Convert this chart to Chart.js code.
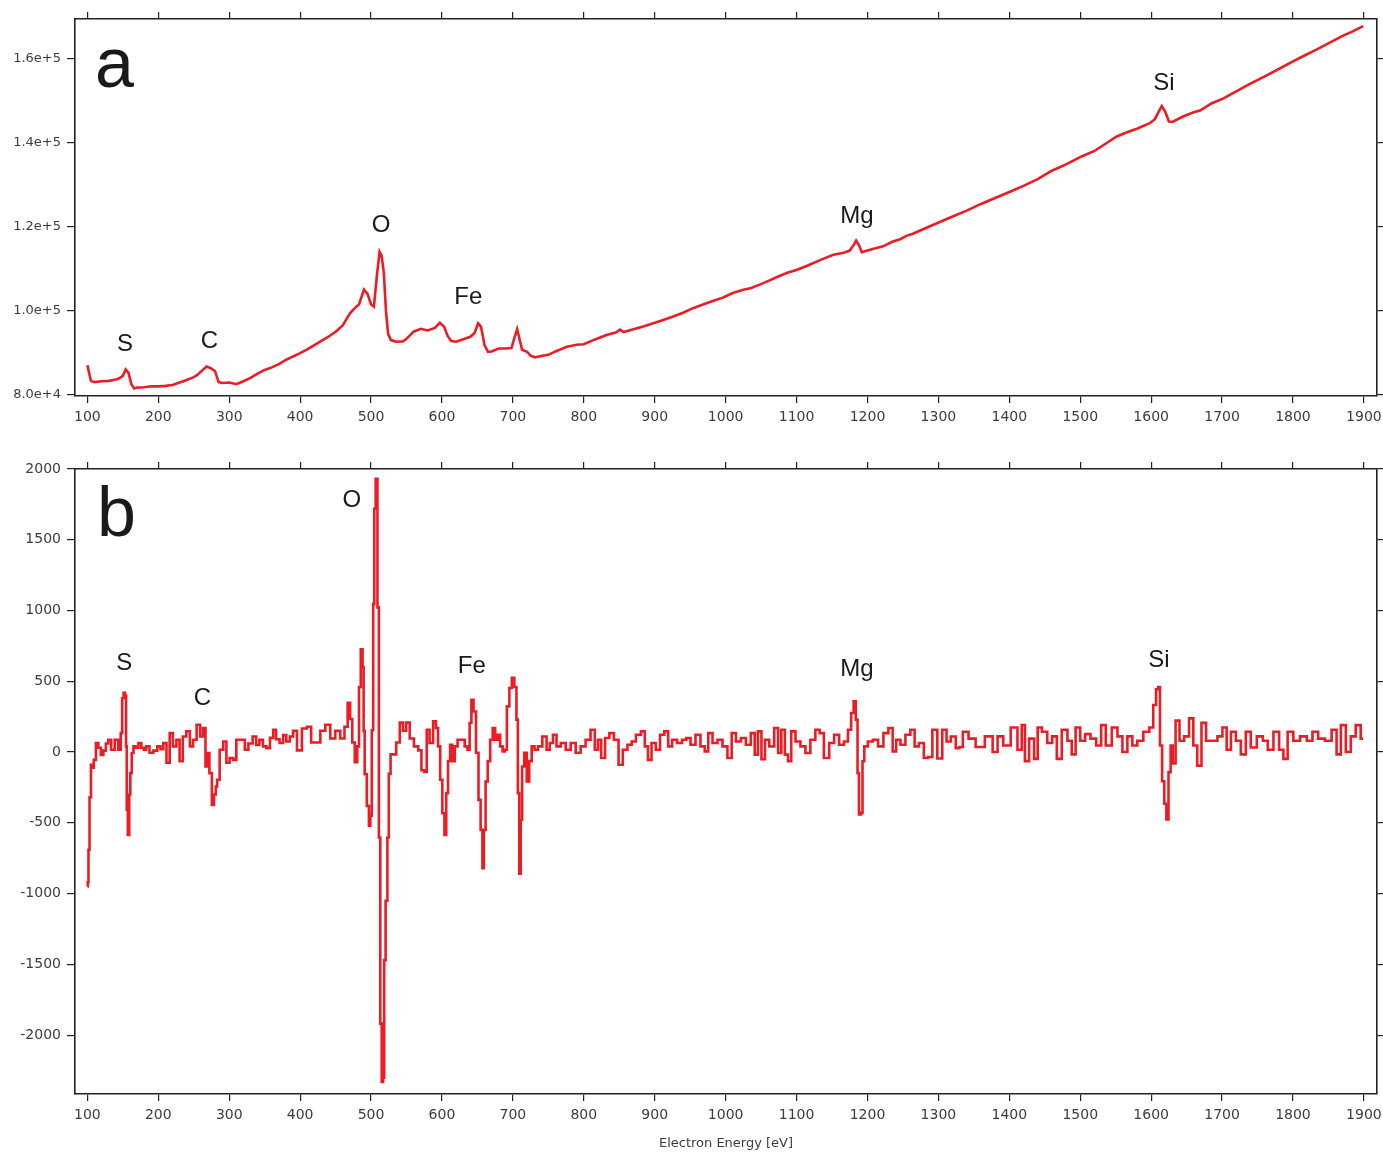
<!DOCTYPE html>
<html>
<head>
<meta charset="utf-8">
<script src="https://cdn.jsdelivr.net/npm/chart.js@4/dist/chart.umd.min.js"></script>
<style>
  html, body { margin: 0; padding: 0; background: #fff; }
  #wrap { position: relative; width: 1383px; height: 1152px; }
  canvas { position: absolute; left: 0; }
  #cA { top: 0; }
  #cB { top: 450px; }
</style>
</head>
<body>
<div id="wrap">
  <canvas id="cA" width="1383" height="440"></canvas>
  <canvas id="cB" width="1383" height="702"></canvas>
</div>
<script>
// ---------------- data ----------------
const xTickValues = [100,200,300,400,500,600,700,800,900,1000,1100,1200,1300,1400,1500,1600,1700,1800,1900];

const topYTicks = [80000,100000,120000,140000,160000];
const topYTickLabels = ['8.0e+4','1.0e+5','1.2e+5','1.4e+5','1.6e+5'];
const botYTicks = [-2000,-1500,-1000,-500,0,500,1000,1500,2000];

// panel a: spectrum (energy in eV, counts)
const specE = [100,102,105,110,120,130,140,145,150,154,158,162,166,170,180,190,200,210,220,230,240,250,255,262,268,274,280,285,290,300,310,320,330,340,350,360,370,380,390,400,410,420,430,440,450,460,470,478,483,490,495,500,504,508,512,515,518,521,524,528,535,545,550,560,570,580,590,597,603,608,613,620,630,640,646,651,655,660,665,670,680,690,698,702,706,710,713,720,725,731,740,750,760,776,790,800,815,832,845,851,856,870,885,898,912,926,940,954,970,985,996,1010,1025,1036,1048,1062,1075,1088,1100,1115,1130,1140,1152,1165,1175,1180,1184,1188,1192,1200,1210,1222,1235,1246,1255,1264,1280,1302,1320,1340,1360,1380,1401,1420,1440,1460,1480,1502,1520,1540,1551,1565,1580,1598,1605,1612,1615,1620,1625,1630,1645,1660,1669,1685,1702,1720,1740,1763,1780,1800,1815,1833,1850,1870,1885,1899];
const specV = [87000,85500,83300,83000,83200,83300,83600,83900,84500,86000,85200,82500,81500,81700,81800,82000,82000,82100,82300,82900,83500,84200,84700,85800,86700,86300,85600,83000,82800,82900,82500,83200,84000,85000,85900,86500,87300,88300,89100,89900,90800,91800,92800,93800,95000,96500,99300,100800,101500,105000,104000,101500,101000,108000,114000,113000,109000,100000,94500,93000,92600,92700,93300,95000,95700,95300,95900,97100,96200,94000,92800,92600,93200,93800,94700,97000,96200,91800,90200,90300,91000,91000,91100,93500,95600,92800,90700,90200,89300,88900,89200,89500,90300,91400,91900,92000,93100,94200,94800,95500,94900,95600,96300,97000,97800,98600,99500,100600,101600,102500,103100,104200,105000,105400,106200,107200,108200,109100,109700,110700,111800,112500,113300,113700,114300,115500,116700,115600,113900,114300,114800,115300,116400,117000,117800,118300,119500,121100,122400,123800,125400,126800,128300,129700,131300,133300,134800,136700,138000,140200,141400,142400,143300,144600,145500,147800,148700,147300,145000,144900,146200,147200,147600,149300,150500,152200,154000,156000,157500,159300,160600,162100,163600,165400,166500,167700];

// panel b: derivative spectrum
const derivE = [100,101,102,104,106,108,110,114,117,121,124,128,131,136,141,146,148,150,152,154,155,156,158,160,161,164,166,170,174,178,181,185,190,196,201,205,209,214,218,223,228,232,237,242,247,251,257,261,265,268,270,274,277,280,282,284,289,294,298,303,308,312,320,324,330,336,340,345,350,355,360,364,368,374,378,383,388,392,399,406,413,418,425,432,439,446,453,460,465,469,472,475,479,482,484,487,489,490,492,496,498,500,502,504,505,508,510,512,514,516,518,519,522,524,526,529,533,538,543,547,552,557,564,569,573,577,580,585,590,593,596,599,602,605,607,610,613,616,620,624,630,634,638,640,643,646,650,653,656,658,660,663,666,670,673,677,680,684,687,690,693,697,700,704,706,708,710,712,714,718,721,725,728,733,738,745,750,754,759,764,771,778,785,792,799,806,813,818,822,827,833,839,846,852,858,865,870,877,884,888,893,898,905,910,917,921,928,935,942,947,954,961,968,973,978,985,992,999,1006,1011,1018,1025,1032,1039,1043,1048,1053,1058,1065,1072,1076,1081,1086,1090,1095,1102,1109,1116,1123,1130,1135,1142,1150,1156,1164,1170,1175,1179,1182,1185,1187,1189,1192,1194,1197,1204,1211,1219,1226,1233,1238,1243,1250,1257,1264,1269,1276,1283,1288,1295,1302,1309,1314,1321,1328,1331,1338,1347,1358,1373,1380,1387,1396,1408,1415,1420,1424,1432,1438,1442,1450,1457,1464,1470,1478,1486,1490,1497,1503,1511,1518,1527,1532,1540,1549,1556,1563,1570,1577,1584,1594,1601,1605,1609,1611,1614,1617,1620,1623,1626,1629,1632,1637,1643,1650,1657,1662,1668,1674,1681,1690,1697,1704,1709,1716,1723,1730,1737,1744,1754,1761,1768,1777,1784,1789,1796,1805,1815,1824,1831,1840,1850,1859,1864,1871,1878,1885,1892,1899];
const derivV = [-950,-920,-690,-320,-90,-110,-55,64,30,-20,10,60,87,16,87,16,134,380,418,400,40,-408,-585,-300,-149,-7,40,30,64,30,16,40,-5,10,40,20,64,-76,134,40,87,-64,110,146,40,87,193,110,170,-102,-7,-149,-373,-300,-243,-196,16,75,-76,-42,-55,87,87,16,60,110,50,87,40,28,100,158,90,64,120,75,110,151,12,166,179,68,68,151,193,96,151,96,179,348,234,68,-72,40,460,726,600,150,-156,-380,-520,-450,154,1047,1719,1930,1022,-604,-1919,-2330,-2300,-1470,-1051,-604,-154,-16,-16,68,208,151,208,96,40,12,-128,-140,158,64,217,170,40,-196,-432,-585,-290,-64,52,-64,40,87,87,40,16,205,370,287,-5,-338,-550,-820,-550,-208,-64,87,170,87,122,40,5,16,323,453,524,460,229,-290,-860,-480,-102,-5,-208,-64,40,16,40,110,16,64,122,40,64,16,64,-5,40,87,158,16,87,-42,99,134,87,-90,16,52,75,122,146,40,-55,64,16,122,146,40,87,64,87,99,52,122,40,5,134,64,87,40,-42,134,75,99,52,134,-18,146,-50,87,40,170,-7,158,-18,-65,146,75,40,-7,87,158,134,-42,64,122,52,75,158,276,358,229,-149,-440,-430,-65,40,75,87,40,134,170,5,87,52,122,158,40,64,-42,-35,158,-45,158,75,110,28,36,143,95,36,111,0,111,46,174,16,190,-64,95,-48,174,143,64,111,-48,158,80,-16,174,80,127,95,46,190,46,174,111,0,111,46,80,143,174,333,444,460,46,-206,-365,-476,-142,46,-80,222,80,111,238,46,-96,206,80,80,111,174,16,143,80,-16,143,32,111,80,16,143,16,-48,143,80,111,80,143,95,80,158,-16,190,0,111,190,95];

// peak labels (text, energy, value)
const peakNamesA = ['S','C','O','Fe','Mg','Si'];
const peakEA = [153,272,514,637,1185,1618];
const peakVA = [92100,92600,120200,103100,122500,154000];
const peakNamesB = ['S','C','O','Fe','Mg','Si'];
const peakEB = [152,262,473,642,1185,1611];
const peakVB = [630,380,1775,605,583,646];

const panelLetterA = {text:'a', x:138, y:157700};
const panelLetterB = {text:'b', x:141, y:1660};

// ---------------- styling ----------------
const RED = '#ec1c24';
const AXIS = '#222';
const TICKTXT = '#3c3c3c';

function fixSize(size) {
  return function(s) {
    if (s.isHorizontal()) s.height = size; else s.width = size;
    s.paddingLeft = 0; s.paddingRight = 0; s.paddingTop = 0; s.paddingBottom = 0;
  };
}
function setTicks(values) {
  return function(s) { s.ticks = values.map(v => ({value: v})); };
}

const labelPlugin = {
  id: 'peakLabels',
  afterDatasetsDraw(chart, args, opts) {
    const ctx = chart.ctx, xs = chart.scales.x, ys = chart.scales.y;
    ctx.save();
    ctx.fillStyle = '#1a1a1a';
    ctx.textAlign = 'center';
    ctx.textBaseline = 'middle';
    ctx.font = '24px "Liberation Sans", Arial, sans-serif';
    opts.names.forEach((n, i) => {
      ctx.fillText(n, xs.getPixelForValue(opts.es[i]), ys.getPixelForValue(opts.vs[i]));
    });
    ctx.font = '70px "Liberation Sans", Arial, sans-serif';
    ctx.fillText(opts.letter.text, xs.getPixelForValue(opts.letter.x), ys.getPixelForValue(opts.letter.y));
    ctx.restore();
  }
};

function makeChart(id, E, V, yMin, yMax, yTicks, yLabelFn, yFont, bottomH, withTitle, stepped, labelOpts) {
  const common = {
    type: 'linear', min: 82.5, max: 1918.5,
    afterBuildTicks: setTicks(xTickValues),
    grid: { drawOnChartArea: false, drawTicks: true, tickLength: 7, color: AXIS, lineWidth: 1.2 },
    border: { display: true, color: AXIS, width: 1.6 }
  };
  const ycommon = {
    type: 'linear', min: yMin, max: yMax,
    afterBuildTicks: setTicks(yTicks),
    grid: { drawOnChartArea: false, drawTicks: true, tickLength: 8, color: AXIS, lineWidth: 1.2 },
    border: { display: true, color: AXIS, width: 1.6 }
  };
  return new Chart(document.getElementById(id), {
    type: 'line',
    data: {
      datasets: [{
        data: E.map((e, i) => ({x: e, y: V[i]})),
        borderColor: RED,
        borderWidth: 2.6,
        pointRadius: 0,
        fill: false,
        tension: 0,
        stepped: stepped
      }]
    },
    options: {
      responsive: false,
      animation: false,
      events: [],
      layout: { padding: 0, autoPadding: false },
      plugins: { legend: { display: false }, tooltip: { enabled: false }, peakLabels: labelOpts },
      scales: {
        x: Object.assign({}, common, {
          position: 'bottom',
          afterFit: fixSize(bottomH),
          ticks: { color: TICKTXT, font: { family: 'DejaVu Sans', size: 14 }, padding: 6, maxRotation: 0, autoSkip: false,
                   callback: v => String(v) },
          title: withTitle ? { display: true, text: 'Electron Energy [eV]', color: TICKTXT,
                   font: { family: 'DejaVu Sans', size: 13 }, padding: { top: 0, bottom: 1 } } : { display: false }
        }),
        x2: Object.assign({}, common, {
          position: 'top',
          afterFit: fixSize(19),
          ticks: { display: false }
        }),
        y: Object.assign({}, ycommon, {
          position: 'left',
          afterFit: fixSize(75),
          ticks: { color: TICKTXT, font: { family: 'DejaVu Sans', size: yFont }, padding: 6, callback: yLabelFn }
        }),
        y2: Object.assign({}, ycommon, {
          position: 'right',
          grid: { drawOnChartArea: false, drawTicks: true, tickLength: 6, color: AXIS, lineWidth: 1.2 },
          afterFit: fixSize(6),
          ticks: { display: false }
        })
      }
    },
    plugins: [labelPlugin]
  });
}

makeChart('cA', specE, specV, 79700, 169400, topYTicks,
  v => topYTickLabels[topYTicks.indexOf(v)], 13, 44, false, false,
  { names: peakNamesA, es: peakEA, vs: peakVA, letter: panelLetterA });

makeChart('cB', derivE, derivV, -2416, 2000, botYTicks,
  v => String(v), 14, 58, true, 'middle',
  { names: peakNamesB, es: peakEB, vs: peakVB, letter: panelLetterB });
</script>
</body>
</html>
